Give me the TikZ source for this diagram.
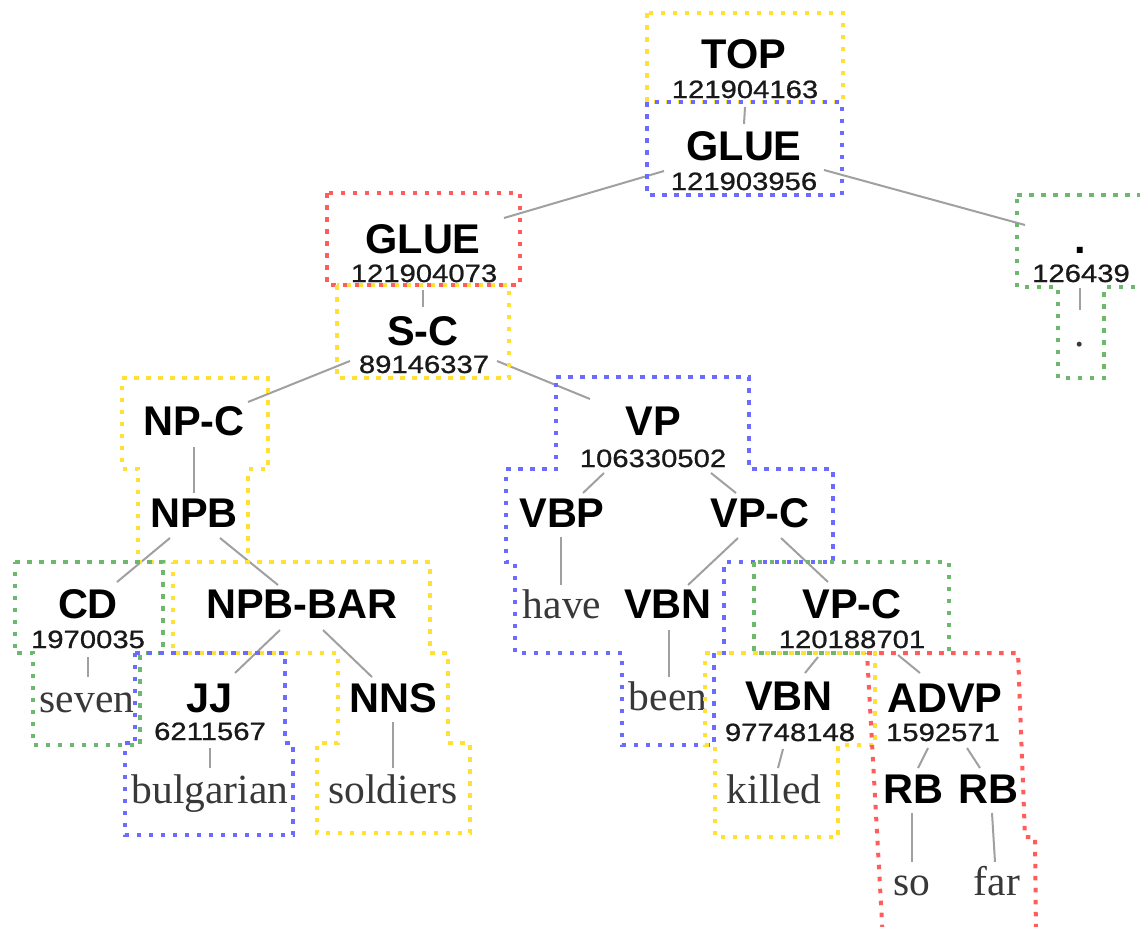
\documentclass[tikz,border=0pt]{standalone}
\usepackage{fontspec}
\usetikzlibrary{calc}
\newfontfamily\labfont{Liberation Sans}
\newfontfamily\numfont[FakeStretch=1.17,FakeBold=0.9]{Liberation Sans}
\newfontfamily\wordfont{Liberation Serif}
\definecolor{segyellow}{HTML}{FFE033}
\definecolor{segblue}{HTML}{6B6BFF}
\definecolor{segred}{HTML}{FF5C5C}
\definecolor{seggreen}{HTML}{6DB86D}
\definecolor{edgegray}{HTML}{A0A0A0}
\tikzset{
  lab/.style={anchor=base, inner sep=0pt, font=\labfont\bfseries\fontsize{41.5}{41.5}\selectfont},
  num/.style={anchor=base, inner sep=0pt, text=black!90, font=\numfont\fontsize{25}{25}\selectfont},
  word/.style={anchor=base, inner sep=0pt, text=black!78, font=\wordfont\fontsize{41.5}{41.5}\selectfont},
  edge/.style={draw=edgegray, line width=2pt},
  seg/.style={line width=4pt, dash pattern=on 4.5pt off 7.5pt},
}
\begin{document}
\begin{tikzpicture}[x=1pt, y=-1pt]
\useasboundingbox (0,0) rectangle (1140,926);
\clip (0,0) rectangle (1140,926);

% ---- tree labels ----
\node[lab] (top)    at (744,68)  {TOP};
\node[num] (topn)   at (745,98)  {121904163};
\node[lab] (gluea)  at (744,160) {GLUE};
\node[num] (gluean) at (744,190) {121903956};
\node[lab] (glueb)  at (423,253) {GLUE};
\node[num] (gluebn) at (424,282) {121904073};
\node[lab] (dot)    at (1080,253) {.};
\node[num] (dotn)   at (1081,282) {126439};
\node[word] (period) at (1080,346) {.};
\node[lab] (sc)     at (423,345) {S-C};
\node[num] (scn)    at (424,373) {89146337};
\node[lab] (npc)    at (194,435) {NP-C};
\node[lab] (npb)    at (194,527) {NPB};
\node[lab] (cd)     at (88,618)  {CD};
\node[num] (cdn)    at (88,648)  {1970035};
\node[word] (seven) at (87,712)  {seven};
\node[lab] (npbbar) at (302,618) {NPB-BAR};
\node[lab] (jj)     at (210,712) {JJ};
\node[num] (jjn)    at (210,740) {6211567};
\node[word] (bulg)  at (210,803) {bulgarian};
\node[lab] (nns)    at (393,712) {NNS};
\node[word] (sold)  at (393,803) {soldiers};
\node[lab] (vp)     at (653,435) {VP};
\node[num] (vpn)    at (653,467) {106330502};
\node[lab] (vbp)    at (562,527) {VBP};
\node[word] (have)  at (562,618) {have};
\node[lab] (vpca)   at (760,527) {VP-C};
\node[lab] (vbna)   at (668,618) {VBN};
\node[word] (been)  at (668,710) {been};
\node[lab] (vpcb)   at (852,618) {VP-C};
\node[num] (vpcbn)  at (852,648) {120188701};
\node[lab] (vbnb)   at (789,710) {VBN};
\node[num] (vbnbn)  at (790,741) {97748148};
\node[word] (killed) at (774,803) {killed};
\node[lab] (advp)   at (945,712) {ADVP};
\node[num] (advpn)  at (943,741) {1592571};
\node[lab] (rba)    at (913,803) {RB};
\node[lab] (rbb)    at (988,803) {RB};
\node[word] (so)    at (912,895) {so};
\node[word] (far)   at (997,895) {far};

% ---- connectors ----
\draw[edge] ($(topn.base)+(0,9)$) -- ($(gluea.base)+(0,-36)$);
\draw[edge] ($(gluean.base)+(-80,-19)$) -- ($(glueb.base)+(81,-35)$);
\draw[edge] ($(gluean.base)+(80,-20)$) -- ($(dot.base)+(-55,-28)$);
\draw[edge] ($(gluebn.base)+(-1,8)$) -- ($(sc.base)+(0,-38)$);
\draw[edge] ($(dotn.base)+(-1,6)$) -- ($(period.base)+(0,-36)$);
\draw[edge] ($(scn.base)+(-74,-12)$) -- ($(npc.base)+(54,-33)$);
\draw[edge] ($(scn.base)+(73,-12)$) -- ($(vp.base)+(-63,-36)$);
\draw[edge] ($(npc.base)+(0,12)$) -- ($(npb.base)+(0,-34)$);
\draw[edge] ($(npb.base)+(-24,11)$) -- ($(cd.base)+(29,-36)$);
\draw[edge] ($(npb.base)+(26,11)$) -- ($(npbbar.base)+(-24,-33)$);
\draw[edge] ($(cdn.base)+(0,9)$) -- ($(seven.base)+(1,-35)$);
\draw[edge] ($(npbbar.base)+(-22,12)$) -- ($(jj.base)+(25,-39)$);
\draw[edge] ($(npbbar.base)+(21,12)$) -- ($(nns.base)+(-21,-35)$);
\draw[edge] ($(jjn.base)+(0,8)$) -- ($(bulg.base)+(0,-35)$);
\draw[edge] ($(nns.base)+(0,10)$) -- ($(sold.base)+(0,-35)$);
\draw[edge] ($(vpn.base)+(-49,6)$) -- ($(vbp.base)+(21,-34)$);
\draw[edge] ($(vpn.base)+(58,6)$) -- ($(vpca.base)+(-24,-34)$);
\draw[edge] ($(vbp.base)+(-1,10)$) -- ($(have.base)+(-1,-33)$);
\draw[edge] ($(vpca.base)+(-22,11)$) -- ($(vbna.base)+(20,-33)$);
\draw[edge] ($(vpca.base)+(21,11)$) -- ($(vpcb.base)+(-24,-36)$);
\draw[edge] ($(vbna.base)+(1,12)$) -- ($(been.base)+(1,-33)$);
\draw[edge] ($(vpcbn.base)+(-34,9)$) -- ($(vbnb.base)+(16,-37)$);
\draw[edge] ($(vpcbn.base)+(46,7)$) -- ($(advp.base)+(-25,-39)$);
\draw[edge] ($(vbnbn.base)+(-7,8)$) -- ($(killed.base)+(4,-35)$);
\draw[edge] ($(advpn.base)+(-15,7)$) -- ($(rba.base)+(5,-35)$);
\draw[edge] ($(advpn.base)+(24,7)$) -- ($(rbb.base)+(-8,-35)$);
\draw[edge] ($(rba.base)+(-1,10)$) -- ($(so.base)+(0,-33)$);
\draw[edge] ($(rbb.base)+(4,10)$) -- ($(far.base)+(-2,-33)$);

% ---- dotted segment outlines ----
\draw[seg, draw=segyellow] (647,13) rectangle (843,102);
\draw[seg, draw=segblue] (647,102) rectangle (842,195);
\draw[seg, draw=segred] (327,193) rectangle (520,285);
\draw[seg, draw=segyellow] (337,285) rectangle (509,378);
\draw[seg, draw=seggreen] (1017,195) -- (1150,195) -- (1150,287) -- (1104,287)
  -- (1104,378) -- (1058,378) -- (1058,287) -- (1017,287) -- cycle;
\draw[seg, draw=segyellow] (122,378) -- (268,378) -- (268,469) -- (248,469)
  -- (248,562) -- (138,562) -- (138,469) -- (122,469) -- cycle;
\draw[seg, draw=seggreen] (15,562) -- (163,562) -- (163,653) -- (140,653)
  -- (140,745) -- (33,745) -- (33,653) -- (15,653) -- cycle;
\draw[seg, draw=segyellow] (173,562) -- (430,562) -- (430,653) -- (448,653)
  -- (448,743) -- (470,743) -- (470,833) -- (317,833) -- (317,743)
  -- (338,743) -- (338,653) -- (173,653) -- cycle;
\draw[seg, draw=segblue] (135,653) -- (285,653) -- (285,743) -- (293,743)
  -- (293,835) -- (125,835) -- (125,743) -- (135,743) -- cycle;
\draw[seg, draw=segblue] (556,377) -- (749,377) -- (749,469) -- (833,469)
  -- (833,562) -- (724,562) -- (724,653) -- (714,653) -- (714,745)
  -- (622,745) -- (622,653) -- (515,653) -- (515,562) -- (506,562)
  -- (506,469) -- (556,469) -- cycle;
\draw[seg, draw=seggreen] (754,562) rectangle (949,653);
\draw[seg, draw=segyellow] (705,653) -- (875,653) -- (875,745) -- (838,745)
  -- (838,837) -- (715,837) -- (715,745) -- (705,745) -- cycle;
\draw[seg, draw=segred] (867,653) -- (1018,653) -- (1025,837) -- (1035,837)
  -- (1036,940) -- (883,940) -- cycle;
\end{tikzpicture}
\end{document}
